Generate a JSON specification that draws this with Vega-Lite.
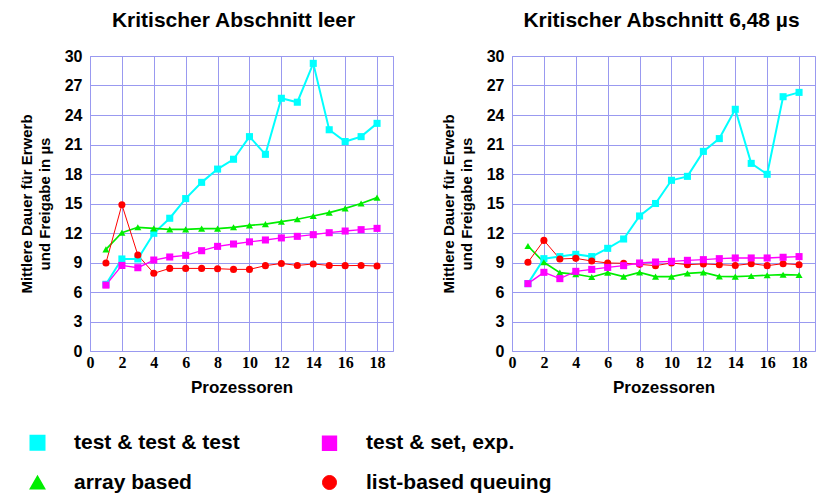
{
  "$schema": "https://vega.github.io/schema/vega-lite/v6.json",
  "background": "white",
  "padding": {"left": 18, "top": 9, "right": 0, "bottom": 0},
  "spacing": 46,
  "data": {"values": [
    {"p":"L","s":"test & test & test","x":1,"y":6.78},{"p":"L","s":"test & test & test","x":2,"y":9.36},{"p":"L","s":"test & test & test","x":3,"y":9.36},{"p":"L","s":"test & test & test","x":4,"y":11.97},{"p":"L","s":"test & test & test","x":5,"y":13.5},{"p":"L","s":"test & test & test","x":6,"y":15.5},{"p":"L","s":"test & test & test","x":7,"y":17.15},{"p":"L","s":"test & test & test","x":8,"y":18.5},{"p":"L","s":"test & test & test","x":9,"y":19.5},{"p":"L","s":"test & test & test","x":10,"y":21.8},{"p":"L","s":"test & test & test","x":11,"y":20.0},{"p":"L","s":"test & test & test","x":12,"y":25.7},{"p":"L","s":"test & test & test","x":13,"y":25.3},{"p":"L","s":"test & test & test","x":14,"y":29.25},{"p":"L","s":"test & test & test","x":15,"y":22.5},{"p":"L","s":"test & test & test","x":16,"y":21.3},{"p":"L","s":"test & test & test","x":17,"y":21.8},{"p":"L","s":"test & test & test","x":18,"y":23.15},
    {"p":"L","s":"array based","x":1,"y":10.34},{"p":"L","s":"array based","x":2,"y":12.03},{"p":"L","s":"array based","x":3,"y":12.58},{"p":"L","s":"array based","x":4,"y":12.47},{"p":"L","s":"array based","x":5,"y":12.37},{"p":"L","s":"array based","x":6,"y":12.37},{"p":"L","s":"array based","x":7,"y":12.44},{"p":"L","s":"array based","x":8,"y":12.44},{"p":"L","s":"array based","x":9,"y":12.58},{"p":"L","s":"array based","x":10,"y":12.78},{"p":"L","s":"array based","x":11,"y":12.9},{"p":"L","s":"array based","x":12,"y":13.15},{"p":"L","s":"array based","x":13,"y":13.4},{"p":"L","s":"array based","x":14,"y":13.73},{"p":"L","s":"array based","x":15,"y":14.07},{"p":"L","s":"array based","x":16,"y":14.5},{"p":"L","s":"array based","x":17,"y":15.0},{"p":"L","s":"array based","x":18,"y":15.6},
    {"p":"L","s":"list-based queuing","x":1,"y":8.95},{"p":"L","s":"list-based queuing","x":2,"y":14.88},{"p":"L","s":"list-based queuing","x":3,"y":9.76},{"p":"L","s":"list-based queuing","x":4,"y":7.9},{"p":"L","s":"list-based queuing","x":5,"y":8.4},{"p":"L","s":"list-based queuing","x":6,"y":8.4},{"p":"L","s":"list-based queuing","x":7,"y":8.4},{"p":"L","s":"list-based queuing","x":8,"y":8.37},{"p":"L","s":"list-based queuing","x":9,"y":8.3},{"p":"L","s":"list-based queuing","x":10,"y":8.3},{"p":"L","s":"list-based queuing","x":11,"y":8.68},{"p":"L","s":"list-based queuing","x":12,"y":8.9},{"p":"L","s":"list-based queuing","x":13,"y":8.7},{"p":"L","s":"list-based queuing","x":14,"y":8.85},{"p":"L","s":"list-based queuing","x":15,"y":8.7},{"p":"L","s":"list-based queuing","x":16,"y":8.68},{"p":"L","s":"list-based queuing","x":17,"y":8.7},{"p":"L","s":"list-based queuing","x":18,"y":8.64},
    {"p":"L","s":"test & set, exp.","x":1,"y":6.7},{"p":"L","s":"test & set, exp.","x":2,"y":8.7},{"p":"L","s":"test & set, exp.","x":3,"y":8.47},{"p":"L","s":"test & set, exp.","x":4,"y":9.25},{"p":"L","s":"test & set, exp.","x":5,"y":9.56},{"p":"L","s":"test & set, exp.","x":6,"y":9.73},{"p":"L","s":"test & set, exp.","x":7,"y":10.2},{"p":"L","s":"test & set, exp.","x":8,"y":10.64},{"p":"L","s":"test & set, exp.","x":9,"y":10.88},{"p":"L","s":"test & set, exp.","x":10,"y":11.1},{"p":"L","s":"test & set, exp.","x":11,"y":11.29},{"p":"L","s":"test & set, exp.","x":12,"y":11.5},{"p":"L","s":"test & set, exp.","x":13,"y":11.66},{"p":"L","s":"test & set, exp.","x":14,"y":11.83},{"p":"L","s":"test & set, exp.","x":15,"y":12.03},{"p":"L","s":"test & set, exp.","x":16,"y":12.2},{"p":"L","s":"test & set, exp.","x":17,"y":12.34},{"p":"L","s":"test & set, exp.","x":18,"y":12.47},
    {"p":"R","s":"test & test & test","x":1,"y":6.85},{"p":"R","s":"test & test & test","x":2,"y":9.39},{"p":"R","s":"test & test & test","x":3,"y":9.6},{"p":"R","s":"test & test & test","x":4,"y":9.83},{"p":"R","s":"test & test & test","x":5,"y":9.6},{"p":"R","s":"test & test & test","x":6,"y":10.44},{"p":"R","s":"test & test & test","x":7,"y":11.39},{"p":"R","s":"test & test & test","x":8,"y":13.73},{"p":"R","s":"test & test & test","x":9,"y":15.0},{"p":"R","s":"test & test & test","x":10,"y":17.36},{"p":"R","s":"test & test & test","x":11,"y":17.76},{"p":"R","s":"test & test & test","x":12,"y":20.3},{"p":"R","s":"test & test & test","x":13,"y":21.6},{"p":"R","s":"test & test & test","x":14,"y":24.58},{"p":"R","s":"test & test & test","x":15,"y":19.08},{"p":"R","s":"test & test & test","x":16,"y":17.97},{"p":"R","s":"test & test & test","x":17,"y":25.86},{"p":"R","s":"test & test & test","x":18,"y":26.3},
    {"p":"R","s":"array based","x":1,"y":10.68},{"p":"R","s":"array based","x":2,"y":9.02},{"p":"R","s":"array based","x":3,"y":7.97},{"p":"R","s":"array based","x":4,"y":7.8},{"p":"R","s":"array based","x":5,"y":7.53},{"p":"R","s":"array based","x":6,"y":7.97},{"p":"R","s":"array based","x":7,"y":7.56},{"p":"R","s":"array based","x":8,"y":8.0},{"p":"R","s":"array based","x":9,"y":7.56},{"p":"R","s":"array based","x":10,"y":7.56},{"p":"R","s":"array based","x":11,"y":7.9},{"p":"R","s":"array based","x":12,"y":8.0},{"p":"R","s":"array based","x":13,"y":7.59},{"p":"R","s":"array based","x":14,"y":7.56},{"p":"R","s":"array based","x":15,"y":7.63},{"p":"R","s":"array based","x":16,"y":7.7},{"p":"R","s":"array based","x":17,"y":7.76},{"p":"R","s":"array based","x":18,"y":7.73},
    {"p":"R","s":"list-based queuing","x":1,"y":9.02},{"p":"R","s":"list-based queuing","x":2,"y":11.25},{"p":"R","s":"list-based queuing","x":3,"y":9.36},{"p":"R","s":"list-based queuing","x":4,"y":9.42},{"p":"R","s":"list-based queuing","x":5,"y":9.15},{"p":"R","s":"list-based queuing","x":6,"y":8.95},{"p":"R","s":"list-based queuing","x":7,"y":8.92},{"p":"R","s":"list-based queuing","x":8,"y":8.81},{"p":"R","s":"list-based queuing","x":9,"y":8.68},{"p":"R","s":"list-based queuing","x":10,"y":8.95},{"p":"R","s":"list-based queuing","x":11,"y":8.78},{"p":"R","s":"list-based queuing","x":12,"y":8.85},{"p":"R","s":"list-based queuing","x":13,"y":8.78},{"p":"R","s":"list-based queuing","x":14,"y":8.7},{"p":"R","s":"list-based queuing","x":15,"y":8.88},{"p":"R","s":"list-based queuing","x":16,"y":8.68},{"p":"R","s":"list-based queuing","x":17,"y":8.88},{"p":"R","s":"list-based queuing","x":18,"y":8.78},
    {"p":"R","s":"test & set, exp.","x":1,"y":6.85},{"p":"R","s":"test & set, exp.","x":2,"y":8.0},{"p":"R","s":"test & set, exp.","x":3,"y":7.36},{"p":"R","s":"test & set, exp.","x":4,"y":8.1},{"p":"R","s":"test & set, exp.","x":5,"y":8.3},{"p":"R","s":"test & set, exp.","x":6,"y":8.5},{"p":"R","s":"test & set, exp.","x":7,"y":8.68},{"p":"R","s":"test & set, exp.","x":8,"y":8.95},{"p":"R","s":"test & set, exp.","x":9,"y":9.05},{"p":"R","s":"test & set, exp.","x":10,"y":9.12},{"p":"R","s":"test & set, exp.","x":11,"y":9.22},{"p":"R","s":"test & set, exp.","x":12,"y":9.29},{"p":"R","s":"test & set, exp.","x":13,"y":9.39},{"p":"R","s":"test & set, exp.","x":14,"y":9.46},{"p":"R","s":"test & set, exp.","x":15,"y":9.46},{"p":"R","s":"test & set, exp.","x":16,"y":9.46},{"p":"R","s":"test & set, exp.","x":17,"y":9.53},{"p":"R","s":"test & set, exp.","x":18,"y":9.6}
  ]},
  "hconcat": [
    {
      "width": 303, "height": 295,
      "title": {"text": "Kritischer Abschnitt leer", "dx": -8},
      "transform": [{"filter": "datum.p === 'L'"}],
      "encoding": {
        "x": {"field": "x", "type": "quantitative", "scale": {"domain": [0, 19], "nice": false}, "axis": {"values": [0,2,4,6,8,10,12,14,16,18], "title": "Prozessoren"}},
        "y": {"field": "y", "type": "quantitative", "scale": {"domain": [0, 30], "nice": false}, "axis": {"values": [0,3,6,9,12,15,18,21,24,27,30], "title": ["Mittlere Dauer für Erwerb", "und Freigabe in µs"]}},
        "color": {"field": "s", "type": "nominal", "title": null, "scale": {"domain": ["test & test & test", "array based", "test & set, exp.", "list-based queuing"], "range": ["#00ffff", "#00ee00", "#ff00ff", "#ff0000"]},
          "legend": {"orient": "none", "legendX": -63, "legendY": 376, "columns": 2, "padding": 0, "symbolSize": 196, "symbolStrokeWidth": 0, "symbolOpacity": 1, "labelFont": "Liberation Sans", "labelFontSize": 21, "labelFontWeight": "bold", "labelColor": "#000000", "labelOffset": 26, "rowPadding": 17, "columnPadding": 79, "labelLimit": 400}}
      },
      "layer": [
        {"mark": {"type": "line"}, "encoding": {"strokeWidth": {"field": "s", "type": "nominal", "legend": null, "scale": {"domain": ["test & test & test", "array based", "test & set, exp.", "list-based queuing"], "range": [2, 1, 1, 2]}}}},
        {"mark": {"type": "point", "filled": true, "opacity": 1, "size": 50}, "encoding": {
          "shape": {"field": "s", "type": "nominal", "title": null, "scale": {"domain": ["test & test & test", "array based", "test & set, exp.", "list-based queuing"], "range": ["square", "triangle-up", "square", "circle"]}}
        }}
      ]
    },
    {
      "width": 303, "height": 295,
      "title": {"text": "Kritischer Abschnitt 6,48 µs", "dx": -2},
      "transform": [{"filter": "datum.p === 'R'"}],
      "encoding": {
        "x": {"field": "x", "type": "quantitative", "scale": {"domain": [0, 19], "nice": false}, "axis": {"values": [0,2,4,6,8,10,12,14,16,18], "title": "Prozessoren"}},
        "y": {"field": "y", "type": "quantitative", "scale": {"domain": [0, 30], "nice": false}, "axis": {"values": [0,3,6,9,12,15,18,21,24,27,30], "title": ["Mittlere Dauer für Erwerb", "und Freigabe in µs"]}},
        "color": {"field": "s", "type": "nominal", "title": null, "scale": {"domain": ["test & test & test", "array based", "test & set, exp.", "list-based queuing"], "range": ["#00ffff", "#00ee00", "#ff00ff", "#ff0000"]},
          "legend": {"orient": "none", "legendX": -63, "legendY": 376, "columns": 2, "padding": 0, "symbolSize": 196, "symbolStrokeWidth": 0, "symbolOpacity": 1, "labelFont": "Liberation Sans", "labelFontSize": 21, "labelFontWeight": "bold", "labelColor": "#000000", "labelOffset": 26, "rowPadding": 17, "columnPadding": 79, "labelLimit": 400}}
      },
      "layer": [
        {"mark": {"type": "line"}, "encoding": {"strokeWidth": {"field": "s", "type": "nominal", "legend": null, "scale": {"domain": ["test & test & test", "array based", "test & set, exp.", "list-based queuing"], "range": [2, 1, 1, 2]}}}},
        {"mark": {"type": "point", "filled": true, "opacity": 1, "size": 50}, "encoding": {
          "shape": {"field": "s", "type": "nominal", "title": null, "scale": {"domain": ["test & test & test", "array based", "test & set, exp.", "list-based queuing"], "range": ["square", "triangle-up", "square", "circle"]}}
        }}
      ]
    }
  ],
  "config": {
    "font": "Liberation Sans",
    "view": {"stroke": "#9999f0", "strokeWidth": 1},
    "axis": {"grid": true, "gridColor": "#9999f0", "gridOpacity": 1, "gridWidth": 1, "domain": false, "ticks": false, "labelColor": "#000000", "labelFontWeight": "bold", "labelFlush": false, "labelOverlap": false, "titleColor": "#000000", "titleFontWeight": "bold"},
    "axisX": {"labelFont": "Liberation Serif", "labelFontSize": 16, "labelPadding": 3, "titleFont": "Liberation Sans", "titleFontSize": 17, "titlePadding": 9},
    "axisY": {"labelFont": "Liberation Sans", "labelFontSize": 16, "labelPadding": 8, "titleFont": "Liberation Sans", "titleFontSize": 15, "titleLineHeight": 18, "titlePadding": 12},
    "title": {"font": "Liberation Sans", "fontSize": 21, "fontWeight": "bold", "color": "#000000", "anchor": "middle", "frame": "group", "baseline": "alphabetic", "offset": 17}
  }
}
